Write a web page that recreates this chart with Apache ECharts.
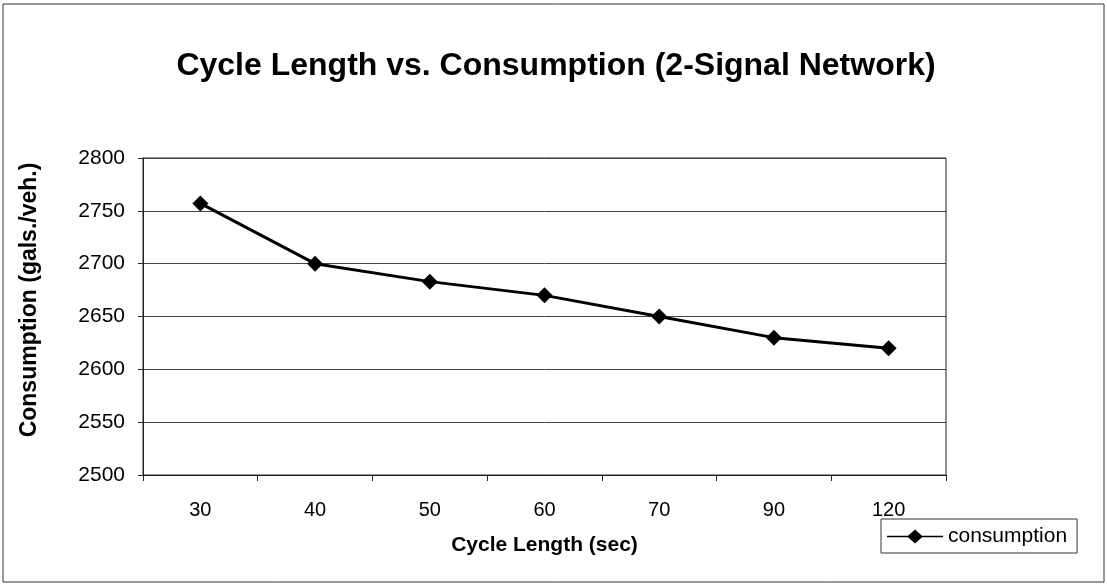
<!DOCTYPE html>
<html><head><meta charset="utf-8">
<script src="https://cdn.jsdelivr.net/npm/echarts@6/dist/echarts.min.js"></script>
<style>html,body{margin:0;padding:0;background:#fff}#c{width:1107px;height:585px}</style>
</head><body><div id="c"></div>
<script>
const categories = ['30', '40', '50', '60', '70', '90', '120'];
const consumption = [2757, 2700, 2683, 2670, 2650, 2630, 2620];
const yTicks = [2500, 2550, 2600, 2650, 2700, 2750, 2800];

const chart = echarts.init(document.getElementById('c'), null, {renderer: 'canvas'});
const font = '"Liberation Sans", Arial, sans-serif';
chart.setOption({
  animation: false,
  backgroundColor: '#fff',
  graphic: [{
    type: 'rect', shape: {x: 3, y: 4, width: 1101, height: 578},
    style: {fill: 'none', stroke: '#333', lineWidth: 1}, silent: true
  }],
  title: {
    text: 'Cycle Length vs. Consumption (2-Signal Network)',
    left: 551, top: 45, textAlign: 'center',
    textStyle: {fontFamily: font, fontSize: 32, fontWeight: 'bold', color: '#000'}
  },
  legend: {
    left: 881, top: 519, orient: 'horizontal',
    itemWidth: 56, itemHeight: 14, itemGap: 4,
    padding: [7, 10, 6, 6],
    borderColor: '#333', borderWidth: 1, borderRadius: 0,
    textStyle: {fontFamily: font, fontSize: 21, color: '#000'},
    data: [{name: 'consumption', icon: 'path://M0,6.3 L21,6.3 L28,0 L35,6.3 L56,6.3 L56,7.7 L35,7.7 L28,14 L21,7.7 L0,7.7 Z'}]
  },
  grid: {left: 143, right: 161, top: 158, bottom: 110, show: true, borderColor: '#222', borderWidth: 1},
  xAxis: {
    type: 'category', data: categories, boundaryGap: true,
    name: 'Cycle Length (sec)', nameLocation: 'middle', nameGap: 60,
    nameTextStyle: {fontFamily: font, fontSize: 21, fontWeight: 'bold', color: '#000'},
    axisLine: {lineStyle: {color: '#222', width: 1}},
    axisTick: {show: true, inside: false, length: 6, alignWithLabel: false, lineStyle: {color: '#222'}},
    axisLabel: {fontFamily: font, fontSize: 20, color: '#000', margin: 25}
  },
  yAxis: {
    type: 'value', min: 2500, max: 2800, interval: 50,
    name: 'Consumption (gals./veh.)', nameLocation: 'middle', nameGap: 102, nameRotate: 90,
    nameTextStyle: {fontFamily: font, fontSize: 23, fontWeight: 'bold', color: '#000', padding: [0, 0, 0, 33]},
    axisLine: {show: true, lineStyle: {color: '#222', width: 1}},
    axisTick: {show: true, length: 5, lineStyle: {color: '#222'}},
    axisLabel: {fontFamily: font, fontSize: 21, color: '#000', margin: 18,
      formatter: v => yTicks.includes(v) ? String(v) : ''},
    splitLine: {show: true, lineStyle: {color: '#444', width: 1}}
  },
  series: [{
    name: 'consumption', type: 'line', data: consumption,
    symbol: 'diamond', symbolSize: 16,
    lineStyle: {color: '#000', width: 3},
    itemStyle: {color: '#000'}
  }]
});
</script></body></html>
